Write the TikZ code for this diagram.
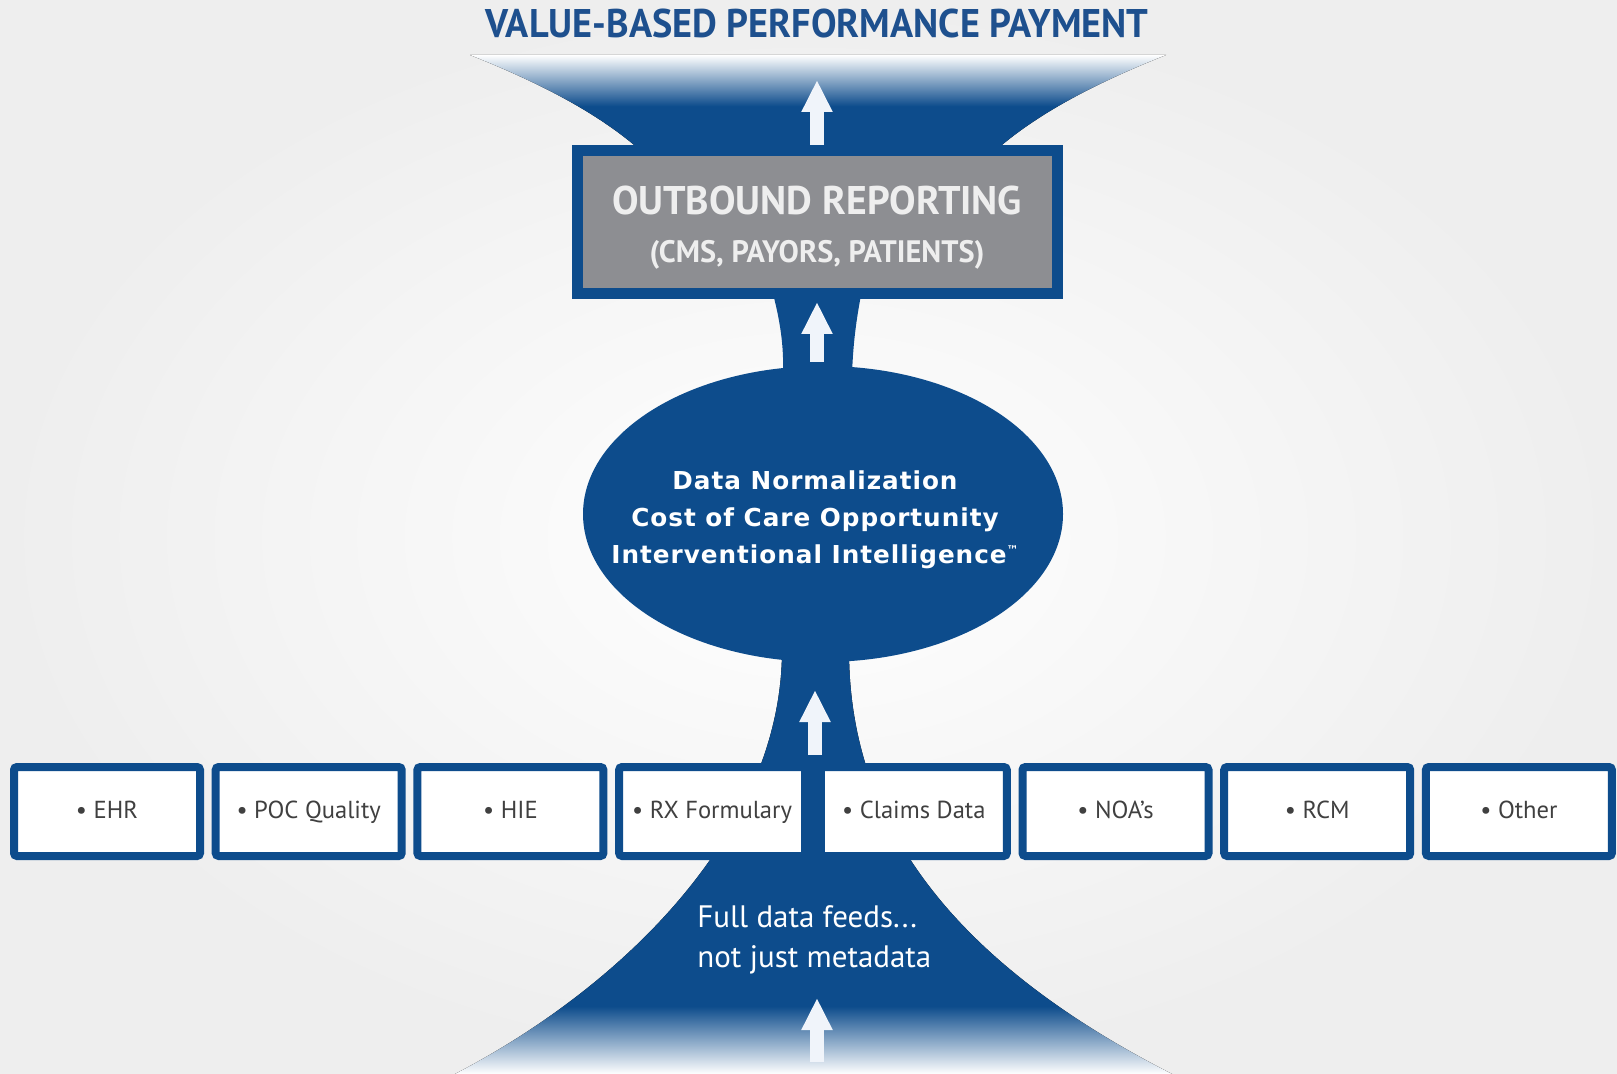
\documentclass[tikz,border=0pt]{standalone}
\usepackage{fontspec}
\setmainfont{PT Sans}
\newfontfamily\hubfont{DejaVu Sans}[LetterSpace=4]
\usetikzlibrary{arrows.meta,shapes.geometric,positioning}

\definecolor{flowblue}{RGB}{13,76,140}
\definecolor{titleblue}{RGB}{30,80,142}
\definecolor{reportgray}{RGB}{141,142,146}
\definecolor{paletext}{RGB}{238,238,238}
\definecolor{arrowwhite}{RGB}{240,244,250}
\definecolor{srctext}{RGB}{64,64,64}
\definecolor{bgedge}{RGB}{238,238,238}

% fades for the two open ends of the flow
\pgfdeclareverticalshading{fadetop}{100bp}{color(0bp)=(flowblue); color(25bp)=(flowblue); color(48bp)=(flowblue); color(75bp)=(white); color(100bp)=(white)}
\pgfdeclareverticalshading{fadebottom}{100bp}{color(0bp)=(white); color(25bp)=(white); color(33bp)=(flowblue); color(100bp)=(flowblue)}

% squeeze text to a given width, keep its height
\newcommand{\squeeze}[2]{\resizebox{#1}{\height}{#2}}

\tikzset{
  reportbox/.style={draw=flowblue, fill=reportgray, line width=5.5pt, minimum width=240pt, minimum height=71.5pt, inner sep=0pt},
  reporthead/.style={text=paletext, inner sep=0pt, font=\fontsize{20}{24}\selectfont\bfseries},
  reportlist/.style={text=paletext, inner sep=0pt, font=\fontsize{15.5}{18}\selectfont\bfseries},
  hub/.style={ellipse, fill=flowblue, minimum width=240pt, minimum height=148pt, inner sep=0pt},
  hubtext/.style={text=white, align=center, inner sep=0pt, font=\hubfont\bfseries\fontsize{12.35}{18.5}\selectfont},
  srcbox/.style={draw=flowblue, fill=white, line width=4pt, rounded corners=1.5pt, minimum width=93pt, minimum height=44.5pt, inner sep=0pt, text=srctext, text height=9pt, text depth=0pt, font=\fontsize{12.3}{15}\selectfont},
  feedtext/.style={text=white, align=left, inner sep=0pt, font=\fontsize{15.5}{20}\selectfont},
  titletext/.style={text=titleblue, inner sep=0pt, font=\fontsize{20}{24}\selectfont\bfseries},
  flowarrow/.style={draw=arrowwhite, line width=7pt, -{Triangle[width=14.5pt, length=16pt]}},
}

\begin{document}
\begin{tikzpicture}[x=0.5pt, y=-0.5pt]
  \useasboundingbox (0,0) rectangle (1617,1074);
  % backdrop
  \fill[inner color=white, outer color=bgedge] (0,0) rectangle (1617,1074);

  % open funnel above the report box
  \fill[shading=fadetop] (470,55) .. controls (545,85) and (600,115) .. (640,150)
    -- (996,150) .. controls (1036,115) and (1091,85) .. (1166,55) -- cycle;
  % neck between report box and hub
  \fill[flowblue] (772,290) .. controls (780,320) and (784,345) .. (783,375)
    -- (852,375) .. controls (853,345) and (856,320) .. (862,290) -- cycle;
  % feeds funnel from the hub down through the source row
  \fill[shading=fadebottom] (782,650) .. controls (782,830) and (625,985) .. (455,1074)
    -- (1172,1074) .. controls (960,965) and (849,830) .. (849,650) -- cycle;

  % outbound reporting
  \node[reportbox] (report) at (817.5,222) {};
  \node[reporthead, anchor=base] (reporttop) at (817,215) {\squeeze{205pt}{OUTBOUND REPORTING}};
  \node[reportlist, anchor=base] (reportwho) at (817,263) {\squeeze{167.5pt}{(CMS, PAYORS, PATIENTS)}};

  % analytics hub
  \node[hub] (hub) at (823,514) {};
  \node[hubtext] (hubtxt) at (815,520) {Data Normalization\\Cost of Care Opportunity\\Interventional Intelligence\raisebox{4.5pt}{\fontsize{6}{6}\selectfont ™}};

  % data sources
  \foreach \src [count=\i] in {EHR, POC Quality, HIE, RX Formulary, Claims Data, NOA’s, RCM, Other}
    \node[srcbox] (src\i) at ({107+201.7*(\i-1)},811.5) {\raisebox{1pt}{• \src}};

  \node[feedtext, anchor=north west] (feeds) at (697,905) {Full data feeds...\\not just metadata};

  \node[titletext, anchor=base] (title) at (817,38) {\squeeze{331.5pt}{VALUE-BASED PERFORMANCE PAYMENT}};

  % flow arrows
  \coordinate (feedtail) at (817,1062);
  \coordinate (feedtip) at (817,998);
  \coordinate (rowtail) at (815,755);
  \coordinate (rowtip) at (815,690);
  \coordinate (hubtail) at (817,362);
  \coordinate (hubtip) at (817,302);
  \coordinate (reporttail) at (817,145);
  \coordinate (reporttip) at (817,80);
  \draw[flowarrow] (feedtail) -- (feedtip);
  \draw[flowarrow] (rowtail) -- (rowtip);
  \draw[flowarrow] (hubtail) -- (hubtip);
  \draw[flowarrow] (reporttail) -- (reporttip);
\end{tikzpicture}
\end{document}
